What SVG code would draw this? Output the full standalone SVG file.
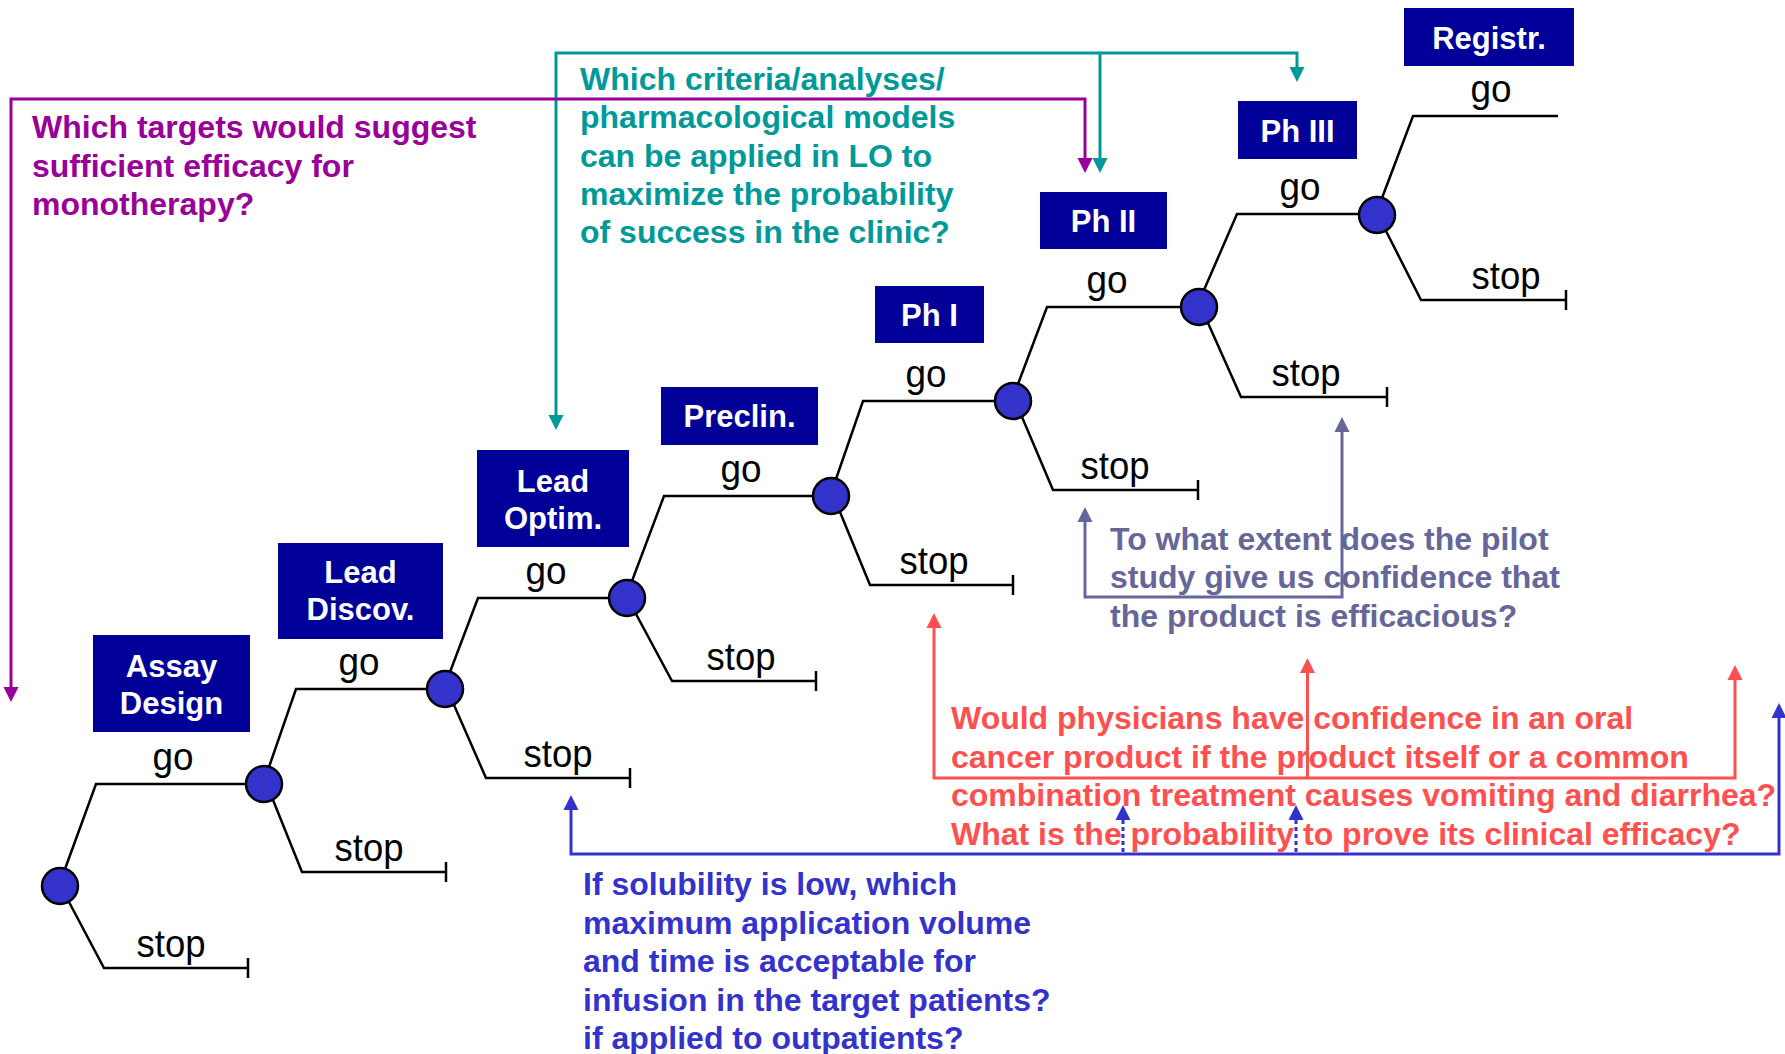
<svg xmlns="http://www.w3.org/2000/svg" width="1785" height="1054" viewBox="0 0 1785 1054">
<style>
.t{font-family:"Liberation Sans",Arial,sans-serif}
.q{font-family:"Liberation Sans",Arial,sans-serif;font-weight:bold;font-size:32px}
.lbl{font-family:"Liberation Sans",Arial,sans-serif;font-size:39px;fill:#000;text-anchor:middle}
.box{fill:#000099}
.bt{font-family:"Liberation Sans",Arial,sans-serif;font-weight:bold;font-size:31px;fill:#fff;text-anchor:middle}
.br{fill:none;stroke:#000;stroke-width:2.5}
.dn{fill:#3333CC;stroke:#000;stroke-width:2.5}
.c{fill:none;stroke-width:3}
</style>
<defs>
<marker id="aM" markerUnits="userSpaceOnUse" markerWidth="16" markerHeight="16" viewBox="0 0 16 16" refX="11" refY="8" orient="auto-start-reverse"><path d="M0,0.5 L15,8 L0,15.5 z" fill="#990099"/></marker>
<marker id="aT" markerUnits="userSpaceOnUse" markerWidth="16" markerHeight="16" viewBox="0 0 16 16" refX="11" refY="8" orient="auto-start-reverse"><path d="M0,0.5 L15,8 L0,15.5 z" fill="#009999"/></marker>
<marker id="aP" markerUnits="userSpaceOnUse" markerWidth="16" markerHeight="16" viewBox="0 0 16 16" refX="11" refY="8" orient="auto-start-reverse"><path d="M0,0.5 L15,8 L0,15.5 z" fill="#666699"/></marker>
<marker id="aR" markerUnits="userSpaceOnUse" markerWidth="16" markerHeight="16" viewBox="0 0 16 16" refX="11" refY="8" orient="auto-start-reverse"><path d="M0,0.5 L15,8 L0,15.5 z" fill="#FF5050"/></marker>
<marker id="aB" markerUnits="userSpaceOnUse" markerWidth="16" markerHeight="16" viewBox="0 0 16 16" refX="11" refY="8" orient="auto-start-reverse"><path d="M0,0.5 L15,8 L0,15.5 z" fill="#3333CC"/></marker>
</defs>
<rect width="1785" height="1054" fill="#fff"/>

<!-- tree branches -->
<g id="branches">
<path class="br" d="M65,869 L96,784 L246,784"/>
<path class="br" d="M69,902 L104,968 L248,968 M248,958 L248,978"/>
<path class="br" d="M269,767 L296,689 L427,689"/>
<path class="br" d="M273,800 L302,872 L446,872 M446,862 L446,882"/>
<path class="br" d="M450,672 L478,598 L609,598"/>
<path class="br" d="M454,705 L486,778 L630,778 M630,768 L630,788"/>
<path class="br" d="M632,581 L664,496 L813,496"/>
<path class="br" d="M636,614 L672,681 L816,681 M816,671 L816,691"/>
<path class="br" d="M836,479 L863,401 L995,401"/>
<path class="br" d="M840,512 L870,585 L1013,585 M1013,575 L1013,595"/>
<path class="br" d="M1018,384 L1047,307 L1181,307"/>
<path class="br" d="M1022,417 L1053,490 L1198,490 M1198,480 L1198,500"/>
<path class="br" d="M1204,290 L1237,214 L1359,214"/>
<path class="br" d="M1208,323 L1241,397 L1387,397 M1387,387 L1387,407"/>
<path class="br" d="M1382,198 L1413,116 L1558,116"/>
<path class="br" d="M1386,231 L1421,300 L1566,300 M1566,290 L1566,310"/>
</g>

<g id="branch-labels">
<text class="lbl" x="173" y="770" textLength="41" lengthAdjust="spacingAndGlyphs">go</text>
<text class="lbl" x="171" y="957" textLength="69" lengthAdjust="spacingAndGlyphs">stop</text>
<text class="lbl" x="359" y="675" textLength="41" lengthAdjust="spacingAndGlyphs">go</text>
<text class="lbl" x="369" y="861" textLength="69" lengthAdjust="spacingAndGlyphs">stop</text>
<text class="lbl" x="546" y="584" textLength="41" lengthAdjust="spacingAndGlyphs">go</text>
<text class="lbl" x="558" y="767" textLength="69" lengthAdjust="spacingAndGlyphs">stop</text>
<text class="lbl" x="741" y="482" textLength="41" lengthAdjust="spacingAndGlyphs">go</text>
<text class="lbl" x="741" y="670" textLength="69" lengthAdjust="spacingAndGlyphs">stop</text>
<text class="lbl" x="926" y="387" textLength="41" lengthAdjust="spacingAndGlyphs">go</text>
<text class="lbl" x="934" y="574" textLength="69" lengthAdjust="spacingAndGlyphs">stop</text>
<text class="lbl" x="1107" y="293" textLength="41" lengthAdjust="spacingAndGlyphs">go</text>
<text class="lbl" x="1115" y="479" textLength="69" lengthAdjust="spacingAndGlyphs">stop</text>
<text class="lbl" x="1300" y="200" textLength="41" lengthAdjust="spacingAndGlyphs">go</text>
<text class="lbl" x="1306" y="386" textLength="69" lengthAdjust="spacingAndGlyphs">stop</text>
<text class="lbl" x="1491" y="102" textLength="41" lengthAdjust="spacingAndGlyphs">go</text>
<text class="lbl" x="1506" y="289" textLength="69" lengthAdjust="spacingAndGlyphs">stop</text>
</g>

<!-- decision nodes -->
<g id="node-d1"><circle class="dn" cx="60" cy="886" r="18"/></g>
<g id="node-d2"><circle class="dn" cx="264" cy="784" r="18"/></g>
<g id="node-d3"><circle class="dn" cx="445" cy="689" r="18"/></g>
<g id="node-d4"><circle class="dn" cx="627" cy="598" r="18"/></g>
<g id="node-d5"><circle class="dn" cx="831" cy="496" r="18"/></g>
<g id="node-d6"><circle class="dn" cx="1013" cy="401" r="18"/></g>
<g id="node-d7"><circle class="dn" cx="1199" cy="307" r="18"/></g>
<g id="node-d8"><circle class="dn" cx="1377" cy="215" r="18"/></g>

<!-- stage boxes -->
<g id="stage-assay"><rect class="box" x="93" y="635" width="157" height="97"/><text class="bt" x="171.5" y="677">Assay</text><text class="bt" x="171.5" y="714">Design</text></g>
<g id="stage-leaddiscov"><rect class="box" x="278" y="543" width="165" height="96"/><text class="bt" x="360.5" y="583">Lead</text><text class="bt" x="360.5" y="620">Discov.</text></g>
<g id="stage-leadoptim"><rect class="box" x="477" y="450" width="152" height="97"/><text class="bt" x="553" y="492">Lead</text><text class="bt" x="553" y="529">Optim.</text></g>
<g id="stage-preclin"><rect class="box" x="661" y="387" width="157" height="58"/><text class="bt" x="739.5" y="427">Preclin.</text></g>
<g id="stage-ph1"><rect class="box" x="875" y="286" width="109" height="57"/><text class="bt" x="929.5" y="326">Ph I</text></g>
<g id="stage-ph2"><rect class="box" x="1040" y="192" width="127" height="57"/><text class="bt" x="1103.5" y="232">Ph II</text></g>
<g id="stage-ph3"><rect class="box" x="1238" y="101" width="119" height="58"/><text class="bt" x="1297.5" y="142">Ph III</text></g>
<g id="stage-registr"><rect class="box" x="1404" y="8" width="170" height="58"/><text class="bt" x="1489" y="49">Registr.</text></g>

<!-- question texts -->
<g id="q-magenta" class="q" fill="#990099">
<text x="32" y="138">Which targets would suggest</text>
<text x="32" y="177">sufficient efficacy for</text>
<text x="32" y="215">monotherapy?</text>
</g>
<g id="q-teal" class="q" fill="#009999">
<text x="580" y="90">Which criteria/analyses/</text>
<text x="580" y="128">pharmacological models</text>
<text x="580" y="167">can be applied in LO to</text>
<text x="580" y="205">maximize the probability</text>
<text x="580" y="243">of success in the clinic?</text>
</g>
<g id="q-purple" class="q" fill="#666699">
<text x="1110" y="550">To what extent does the pilot</text>
<text x="1110" y="588">study give us confidence that</text>
<text x="1110" y="627">the product is efficacious?</text>
</g>
<g id="q-red" class="q" fill="#FF5050">
<text x="951" y="729">Would physicians have confidence in an oral</text>
<text x="951" y="768">cancer product if the product itself or a common</text>
<text x="951" y="806">combination treatment causes vomiting and diarrhea?</text>
<text x="951" y="845">What is the probability to prove its clinical efficacy?</text>
</g>
<g id="q-blue" class="q" fill="#3333CC">
<text x="583" y="895">If solubility is low, which</text>
<text x="583" y="934">maximum application volume</text>
<text x="583" y="972">and time is acceptable for</text>
<text x="583" y="1011">infusion in the target patients?</text>
<text x="583" y="1049">if applied to outpatients?</text>
</g>

<!-- connectors -->
<g id="connectors">
<path class="c" stroke="#009999" d="M556,426 L556,53 L1297,53 L1297,78" marker-start="url(#aT)" marker-end="url(#aT)"/>
<path class="c" stroke="#009999" d="M1100,53 L1100,169" marker-end="url(#aT)"/>
<path class="c" stroke="#990099" d="M11,698 L11,99 L1085,99 L1085,169" marker-start="url(#aM)" marker-end="url(#aM)"/>
<path class="c" stroke="#666699" d="M1085,511 L1085,597 L1342,597 L1342,421" marker-start="url(#aP)" marker-end="url(#aP)"/>
<path class="c" stroke="#FF5050" d="M934,617 L934,778 L1735,778 L1735,669" marker-start="url(#aR)" marker-end="url(#aR)"/>
<path class="c" stroke="#FF5050" d="M1307.5,778 L1307.5,662" marker-end="url(#aR)"/>
<path class="c" stroke="#3333CC" d="M571,799 L571,854 L1779,854 L1779,707" marker-start="url(#aB)" marker-end="url(#aB)"/>
<path class="c" stroke="#3333CC" stroke-dasharray="4 3" d="M1123,852 L1123,809" marker-end="url(#aB)"/>
<path class="c" stroke="#3333CC" stroke-dasharray="4 3" d="M1296,852 L1296,809" marker-end="url(#aB)"/>
</g>
</svg>
